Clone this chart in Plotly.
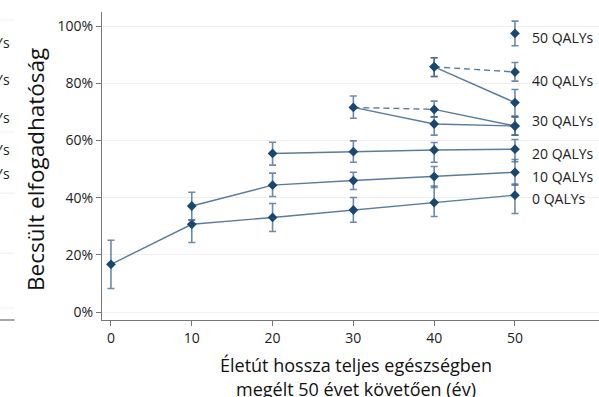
import plotly.graph_objects as go

# ---- data (values in %) ----
x_ticks = [0, 10, 20, 30, 40, 50]
y_ticks = [0, 20, 40, 60, 80, 100]
y_tick_labels = ["0%", "20%", "40%", "60%", "80%", "100%"]

q0_x = [0, 10, 20, 30, 40, 50]
q0_y = [16.7, 30.7, 33.1, 35.7, 38.3, 40.9]
q0_hi = [25.1, 32.3, 38.0, 40.1, 44.1, 44.8]
q0_lo = [8.2, 24.3, 28.2, 31.4, 33.4, 34.5]

q10_x = [10, 20, 30, 40, 50]
q10_y = [37.1, 44.4, 46.0, 47.4, 48.9]
q10_hi = [41.9, 48.6, 48.9, 50.9, 53.4]
q10_lo = [32.1, 40.4, 42.9, 43.6, 44.4]

q20_x = [20, 30, 40, 50]
q20_y = [55.5, 56.1, 56.7, 57.0]
q20_hi = [59.4, 59.9, 59.3, 60.4]
q20_lo = [51.4, 52.4, 52.4, 52.6]

q30a_x = [30, 40, 50]
q30a_y = [71.6, 65.8, 65.1]
q30a_hi = [75.6, 68.3, 68.3]
q30a_lo = [67.8, 61.9, 61.9]

q30b_dash_x = [30, 40]
q30b_dash_y = [71.6, 70.9]
q30b_x = [40, 50]
q30b_y = [70.9, 65.1]
q30b_hi = [73.8, 68.3]
q30b_lo = [68.3, 61.9]

q40a_x = [40, 50]
q40a_y = [85.8, 73.3]
q40a_hi = [89.0, 77.9]
q40a_lo = [82.4, 68.6]

q40b_x = [40, 50]
q40b_y = [85.8, 84.0]
q40b_hi = [89.0, 87.3]
q40b_lo = [82.4, 80.8]

q50_x = [50]
q50_y = [97.5]
q50_hi = [101.8]
q50_lo = [93.2]

end_labels = ["50 QALYs", "40 QALYs", "30 QALYs", "20 QALYs", "10 QALYs", "0 QALYs"]
end_label_y = [96.2, 81.2, 67.2, 55.6, 47.6, 39.9]

x_title_lines = ["Életút hossza teljes egészségben", "megélt 50 évet követően (év)"]
y_title = "Becsült elfogadhatóság"

# fragments of the neighbouring panel visible on the left edge
left_label_y = [94.5, 81.5, 68.2, 57.0, 48.6]
left_grid_y = [102.2, 63.0, 41.6, 20.6, 1.4]

NAVY = "#1a476f"
LINE = "rgba(60,100,140,0.85)"
ERR = "rgba(60,100,140,0.75)"
FONT = "Open Sans"

fig = go.Figure()


def line(xs, ys, dash="solid"):
    fig.add_trace(go.Scatter(x=xs, y=ys, mode="lines",
                             line=dict(color=LINE, width=1.4, dash=dash),
                             hoverinfo="skip", showlegend=False))


def pts(xs, ys, hi, lo):
    fig.add_trace(go.Scatter(
        x=xs, y=ys, mode="markers",
        marker=dict(symbol="diamond", size=7.5, color=NAVY),
        error_y=dict(type="data", symmetric=False,
                     array=[h - v for h, v in zip(hi, ys)],
                     arrayminus=[v - l for v, l in zip(ys, lo)],
                     color=ERR, thickness=1.6, width=3.5),
        showlegend=False))


line(q0_x, q0_y)
line(q10_x, q10_y)
line(q20_x, q20_y)
line(q30a_x, q30a_y)
line(q30b_dash_x, q30b_dash_y, dash="6px,4px")
line(q30b_x, q30b_y)
line(q40a_x, q40a_y)
line(q40b_x, q40b_y, dash="6px,4px")

pts(q0_x, q0_y, q0_hi, q0_lo)
pts(q10_x, q10_y, q10_hi, q10_lo)
pts(q20_x, q20_y, q20_hi, q20_lo)
pts(q30a_x, q30a_y, q30a_hi, q30a_lo)
pts(q30b_x, q30b_y, q30b_hi, q30b_lo)
pts(q40a_x, q40a_y, q40a_hi, q40a_lo)
pts(q40b_x, q40b_y, q40b_hi, q40b_lo)
pts(q50_x, q50_y, q50_hi, q50_lo)

annotations = []
for t, yv in zip(end_labels, end_label_y):
    annotations.append(dict(x=50, y=yv, xref="x", yref="y", text=t,
                            xanchor="left", yanchor="middle", xshift=15,
                            showarrow=False,
                            font=dict(family=FONT, size=14, color="#222")))
for yv in left_label_y:
    annotations.append(dict(x=-0.181, y=yv, xref="paper", yref="y", text="QALYs",
                            xanchor="right", yanchor="middle", showarrow=False,
                            font=dict(family=FONT, size=14, color="#222")))

annotations.append(dict(x=-0.135, y=0.49, xref="paper", yref="paper",
                        text=y_title, textangle=-90,
                        xanchor="center", yanchor="middle", showarrow=False,
                        font=dict(family=FONT, size=22.5, color="#111")))
# two title lines
annotations.append(dict(x=0.512, y=-0.1477, xref="paper", yref="paper",
                        text=x_title_lines[0],
                        xanchor="center", yanchor="middle", showarrow=False,
                        font=dict(family=FONT, size=18, color="#111")))
annotations.append(dict(x=0.512, y=-0.2240, xref="paper", yref="paper",
                        text=x_title_lines[1],
                        xanchor="center", yanchor="middle", showarrow=False,
                        font=dict(family=FONT, size=18, color="#111")))

shapes = []
for yv in left_grid_y:
    shapes.append(dict(type="line", xref="paper", yref="y", x0=-0.21, x1=-0.175,
                       y0=yv, y1=yv, line=dict(color="#eeeeee", width=1)))
shapes.append(dict(type="line", xref="paper", yref="paper", x0=-0.21, x1=-0.176,
                   y0=0, y1=0, line=dict(color="#777", width=1.3)))

fig.update_layout(
    width=599, height=397,
    margin=dict(l=102, r=0, t=12, b=77),
    plot_bgcolor="white", paper_bgcolor="white",
    font=dict(family=FONT, size=14, color="#222"),
    annotations=annotations, shapes=shapes,
    xaxis=dict(range=[-1.11, 60.4], tickvals=x_ticks,
               ticks="outside", ticklen=5, tickcolor="#777",
               showline=True, linecolor="#777", linewidth=1.3,
               showgrid=False, zeroline=False,
               tickfont=dict(family=FONT, size=14, color="#222")),
    yaxis=dict(range=[-2.8, 105], tickvals=y_ticks, ticktext=y_tick_labels,
               ticks="outside", ticklen=5, tickcolor="#777",
               showline=True, linecolor="#777", linewidth=1.3,
               showgrid=True, gridcolor="#efefef", gridwidth=1,
               zeroline=False,
               tickfont=dict(family=FONT, size=14, color="#222")),
)

fig.write_html("out.html",
               config={"displayModeBar": False},
               post_script="document.body.style.margin='0';"
                           "document.body.style.overflow='hidden';")
